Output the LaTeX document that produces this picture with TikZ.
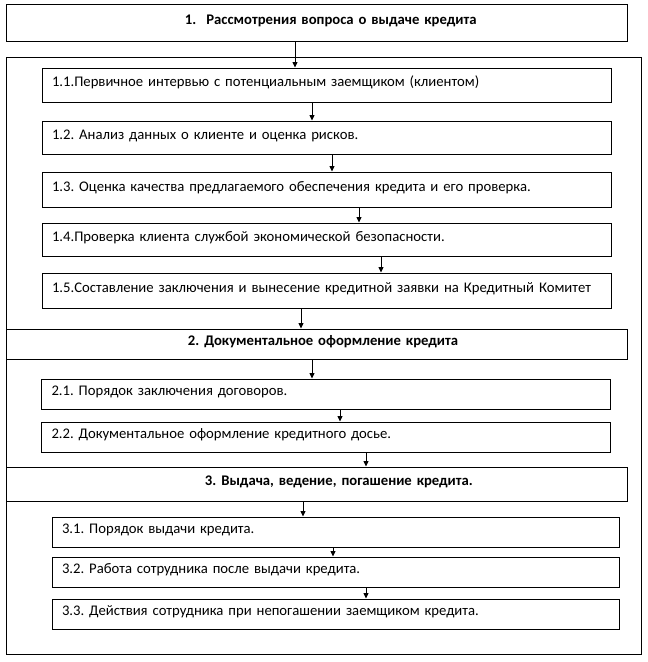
\documentclass[tikz,border=0pt]{standalone}
\usepackage{fontspec}
\setmainfont{Carlito}
\usetikzlibrary{arrows.meta}
\frenchspacing
\tikzset{
  stage/.style={draw, line width=1pt, text width=601pt, inner xsep=10pt,
    align=left, text height=9pt, text depth=6pt,
    font=\fontsize{14.7}{17}\selectfont\bfseries},
  task/.style={draw, line width=1pt, text width=549pt, inner xsep=10pt,
    align=left, text height=9pt, text depth=6pt},
  frame/.style={draw, line width=1pt, minimum width=635pt, minimum height=597pt},
  arr/.style={-{Triangle[length=5.5pt,width=5pt]}, line width=0.8pt}
}
\begin{document}
\begin{tikzpicture}[x=1pt, y=-1pt, font=\fontsize{14.7}{17}\selectfont]
  \useasboundingbox (0,0) rectangle (648,662);
  \node[frame] (outer) at (323.5,355.5) {};
  \node[stage, minimum height=37pt] (s1) at (316.5,22.5)
    {\hspace*{169pt}1.\hspace{10pt}Рассмотрения вопроса о выдаче кредита};
  \node[task, minimum height=34pt] (t11) at (326.5,85)
    {1.1.Первичное интервью с потенциальным заемщиком (клиентом)};
  \node[task, minimum height=33pt] (t12) at (326.5,137.5)
    {1.2. Анализ данных о клиенте и оценка рисков.};
  \node[task, minimum height=35pt] (t13) at (326.5,189.5)
    {1.3. Оценка качества предлагаемого обеспечения кредита и его проверка.};
  \node[task, minimum height=33pt] (t14) at (326.5,239.5)
    {1.4.Проверка клиента службой экономической безопасности.};
  \node[task, minimum height=35pt] (t15) at (326.5,290.5)
    {\makebox[\linewidth][s]{1.5.Составление заключения и вынесение кредитной заявки на Кредитный Комитет}};
  \node[stage, minimum height=30pt] (s2) at (316.5,344)
    {\hspace*{172pt}2. Документальное оформление кредита};
  \node[task, minimum height=30pt] (t21) at (326,394)
    {2.1. Порядок заключения договоров.};
  \node[task, minimum height=30pt] (t22) at (326,437)
    {2.2. Документальное оформление кредитного досье.};
  \node[stage, minimum height=34pt] (s3) at (316.5,484)
    {\hspace*{189pt}3. Выдача, ведение, погашение кредита.};
  \node[task, text width=547pt, minimum height=30pt] (t31) at (335.5,532)
    {3.1. Порядок выдачи кредита.};
  \node[task, text width=547pt, minimum height=30pt] (t32) at (335.5,572)
    {3.2. Работа сотрудника после выдачи кредита.};
  \node[task, text width=547pt, minimum height=30pt] (t33) at (335.5,614)
    {3.3. Действия сотрудника при непогашении заемщиком кредита.};
  \foreach \a/\b/\x in {s1/t11/295, t11/t12/312, t12/t13/332, t13/t14/359,
      t14/t15/381, t15/s2/301, s2/t21/312, t21/t22/340, t22/s3/366,
      s3/t31/303, t31/t32/333, t32/t33/366}
    \draw[arr] (\a.south -| \x,0) -- (\b.north -| \x,0);
\end{tikzpicture}
\end{document}
